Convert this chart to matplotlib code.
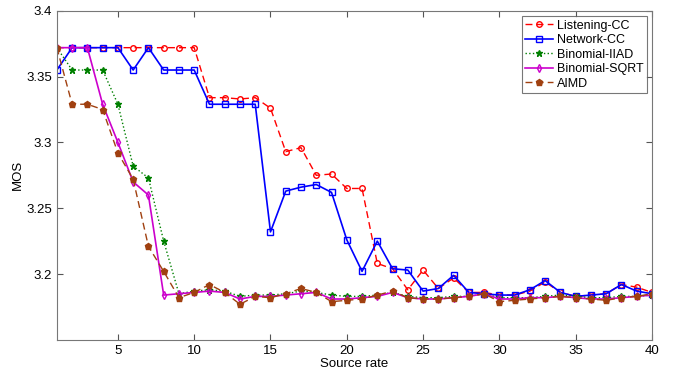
import matplotlib.pyplot as plt
import numpy as np

plt.rcParams['font.family'] = ['Liberation Sans', 'DejaVu Sans']

# Source rate 1..40
rate = np.arange(1, 41)

listening_cc = [3.372, 3.372, 3.372, 3.372, 3.372, 3.372, 3.372, 3.372, 3.372, 3.372,
                3.334, 3.334, 3.333, 3.334, 3.326, 3.293, 3.296, 3.275, 3.276, 3.265,
                3.265, 3.208, 3.204, 3.188, 3.203, 3.189, 3.197, 3.186, 3.186, 3.184,
                3.184, 3.187, 3.194, 3.186, 3.183, 3.184, 3.185, 3.192, 3.190, 3.186]

network_cc = [3.355, 3.372, 3.372, 3.372, 3.372, 3.355, 3.372, 3.355, 3.355, 3.355,
              3.329, 3.329, 3.329, 3.329, 3.232, 3.263, 3.266, 3.268, 3.262, 3.226,
              3.202, 3.225, 3.204, 3.203, 3.187, 3.189, 3.199, 3.186, 3.185, 3.184,
              3.184, 3.188, 3.195, 3.186, 3.183, 3.184, 3.185, 3.192, 3.187, 3.185]

binomial_iiad = [3.372, 3.355, 3.355, 3.355, 3.329, 3.282, 3.273, 3.225, 3.185, 3.187,
                 3.188, 3.187, 3.183, 3.184, 3.184, 3.185, 3.187, 3.186, 3.184, 3.183,
                 3.183, 3.184, 3.186, 3.183, 3.182, 3.182, 3.183, 3.183, 3.185, 3.182,
                 3.182, 3.182, 3.183, 3.184, 3.183, 3.182, 3.182, 3.183, 3.183, 3.184]

binomial_sqrt = [3.372, 3.372, 3.372, 3.329, 3.300, 3.270, 3.260, 3.184, 3.185, 3.186,
                 3.187, 3.186, 3.181, 3.183, 3.183, 3.184, 3.185, 3.186, 3.181, 3.181,
                 3.182, 3.183, 3.186, 3.182, 3.181, 3.181, 3.182, 3.183, 3.185, 3.181,
                 3.181, 3.182, 3.182, 3.183, 3.182, 3.181, 3.181, 3.182, 3.183, 3.184]

aimd = [3.372, 3.329, 3.329, 3.325, 3.292, 3.272, 3.221, 3.202, 3.182, 3.186,
        3.192, 3.186, 3.177, 3.183, 3.182, 3.185, 3.189, 3.186, 3.179, 3.180,
        3.181, 3.184, 3.187, 3.182, 3.181, 3.181, 3.182, 3.183, 3.185, 3.179,
        3.180, 3.181, 3.182, 3.183, 3.182, 3.181, 3.180, 3.182, 3.183, 3.185]

fig = plt.figure(figsize=(6.77, 3.73), dpi=100)
ax = fig.add_axes([0.084, 0.089, 0.879, 0.882])

ax.plot(rate, listening_cc, '--o', color='red', mfc='none', ms=4, lw=1, dashes=(5, 3),
        label='Listening-CC')
ax.plot(rate, network_cc, '-s', color='blue', mfc='none', ms=5, lw=1.2, label='Network-CC')
ax.plot(rate, binomial_iiad, ':*', color='green', ms=5, lw=1, label='Binomial-IIAD')
ax.plot(rate, binomial_sqrt, '-d', color='#cc00cc', mfc='none', ms=4, lw=1.2,
        label='Binomial-SQRT')
ax.plot(rate, aimd, '--p', color='#a04010', ms=5, lw=1, dashes=(5, 3), label='AIMD')

ax.set_xlim(1, 40)
ax.set_ylim(3.15, 3.4)
ax.set_xticks(np.arange(5, 41, 5))
ax.set_yticks([3.2, 3.25, 3.3, 3.35, 3.4])
ax.set_yticklabels(['3.2', '3.25', '3.3', '3.35', '3.4'])
ax.tick_params(direction='in', top=True, right=True, labelsize=9.5, length=4, color='#555555')
for s in ax.spines.values():
    s.set_color('#777777')

ax.set_xlabel('Source rate', fontsize=9.5, labelpad=1)
ax.set_ylabel('MOS', fontsize=9.5, labelpad=2)

leg = ax.legend(loc='upper right', fontsize=9, fancybox=False, edgecolor='#555555',
                handlelength=2.2, handletextpad=0.3, borderpad=0.3, labelspacing=0.2,
                borderaxespad=0.4)
leg.get_frame().set_linewidth(0.8)

plt.savefig('out.png', dpi=100)
